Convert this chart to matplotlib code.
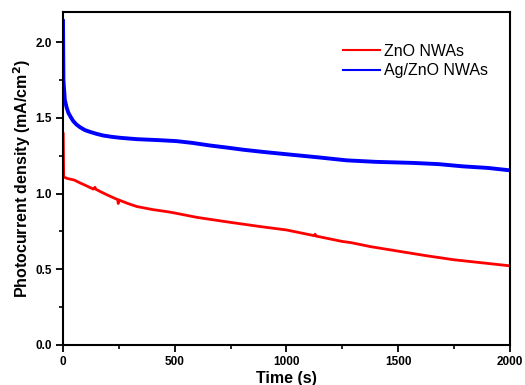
import matplotlib
matplotlib.use("Agg")
import matplotlib.pyplot as plt
from matplotlib.ticker import MultipleLocator
from matplotlib.lines import Line2D

plt.rcParams['font.family'] = ['Liberation Sans', 'DejaVu Sans']

zno_t = [0, 1, 3, 20, 50, 76, 100, 136, 143, 146, 165, 200, 245, 247, 250, 290, 330, 400,
         470, 500, 600, 750, 880, 1000, 1125, 1128, 1131, 1250, 1290, 1375, 1500, 1625, 1750, 1875, 2000]
zno_v = [1.40, 1.40, 1.11, 1.10, 1.09, 1.071, 1.055, 1.03, 1.042, 1.03, 1.015, 0.99, 0.96, 0.935, 0.958, 0.935, 0.915, 0.895,
         0.88, 0.872, 0.843, 0.81, 0.783, 0.76, 0.722, 0.732, 0.72, 0.684, 0.676, 0.65, 0.62, 0.59, 0.563, 0.543, 0.523]

ag_t = [0, 2, 8, 16, 24, 35, 46, 60, 76, 98, 121, 150, 180, 215, 255, 330, 434, 508, 580, 658, 730, 807, 900, 1016,
        1140, 1269, 1400, 1567, 1680, 1791, 1900, 2000]
ag_v = [2.14, 1.75, 1.62, 1.57, 1.534, 1.505, 1.479, 1.457, 1.439, 1.42, 1.408, 1.395, 1.384, 1.376, 1.369, 1.36, 1.353, 1.347,
        1.335, 1.318, 1.305, 1.29, 1.275, 1.258, 1.24, 1.22, 1.21, 1.203, 1.195, 1.18, 1.17, 1.154]

fig = plt.figure(figsize=(5.25, 3.85), dpi=100)
ax = fig.add_axes([0.12, 0.1039, 0.8514, 0.8649])

ax.plot(zno_t, zno_v, color='#ff0000', lw=2.0)
ax.plot(ag_t, ag_v, color='#0000ff', lw=2.8)

ax.set_xlim(0, 2000)
ax.set_ylim(0, 2.2)
ax.xaxis.set_major_locator(MultipleLocator(500))
ax.xaxis.set_minor_locator(MultipleLocator(250))
ax.yaxis.set_major_locator(MultipleLocator(0.5))
ax.yaxis.set_minor_locator(MultipleLocator(0.25))
ax.tick_params(which='major', direction='out', length=5, width=1.3, labelsize=8.5, pad=3)
ax.tick_params(which='minor', direction='out', length=3, width=1.2)
ax.tick_params(top=False, right=False)
for lbl in ax.get_xticklabels() + ax.get_yticklabels():
    lbl.set_fontweight('bold')
for s in ax.spines.values():
    s.set_linewidth(1.5)

ax.set_xlabel('Time (s)', fontsize=11.5, fontweight='bold', labelpad=2)
ax.set_ylabel('Photocurrent density (mA/cm$^\\mathbf{2}$)', fontsize=11.5, fontweight='bold', labelpad=2)

handles = [Line2D([], [], color='#ff0000', lw=1.5), Line2D([], [], color='#0000ff', lw=1.5)]
ax.legend(handles, ['ZnO NWAs', 'Ag/ZnO NWAs'], loc='upper left', bbox_to_anchor=(0.594, 0.948),
          frameon=False, fontsize=11.5, handlelength=2.3, handletextpad=0.25, labelspacing=0.3)

fig.savefig('out.png', dpi=100)
